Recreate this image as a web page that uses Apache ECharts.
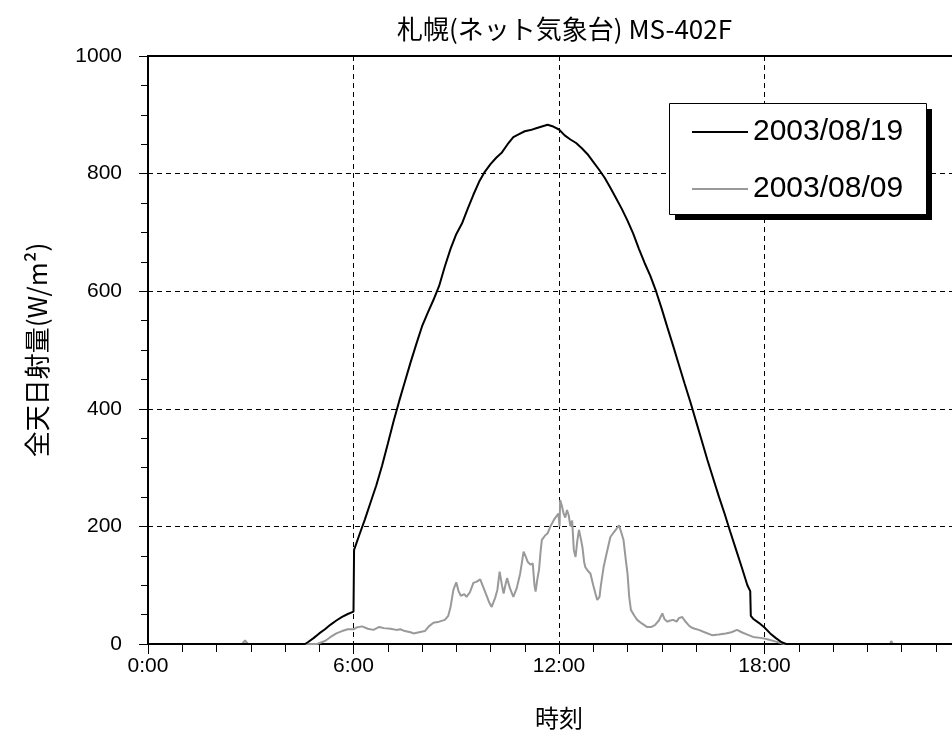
<!DOCTYPE html>
<html>
<head>
<meta charset="utf-8">
<script src="https://cdn.jsdelivr.net/npm/echarts@6/dist/echarts.min.js"></script>
<style>html,body{margin:0;padding:0;background:#fff;}#c{width:952px;height:743px;}</style>
</head>
<body>
<div id="c"></div>
<script>
// ---- data ----
const titleText = '札幌(ネット気象台) MS-402F';
const xName = '時刻';
const yName = '全天日射量(W/m²)';
const seriesNames = ['2003/08/19', '2003/08/09'];
const xTicks = [0, 6, 12, 18, 24];

const blackTimes = ['0:00','4:35','4:40','4:50','5:00','5:10','5:20','5:30','5:40','5:50','6:00','6:01','6:10','6:20','6:30','6:40','6:50',
  '7:00','7:10','7:20','7:30','7:40','7:50','8:00','8:10','8:20','8:30','8:40','8:50','9:00','9:10','9:20','9:30','9:40','9:50',
  '10:00','10:10','10:20','10:30','10:40','10:50','11:00','11:10','11:20','11:30','11:40','11:50','12:00','12:10','12:20','12:30','12:40','12:50',
  '13:00','13:10','13:20','13:30','13:40','13:50','14:00','14:10','14:20','14:30','14:40','14:50','15:00','15:10','15:20','15:30','15:40','15:50',
  '16:00','16:10','16:20','16:30','16:40','16:50','17:00','17:10','17:20','17:30','17:35','17:36','17:40','17:50','18:00','18:10','18:20','18:30','18:38','24:00'];
const blackValues = [0,0,3,10,18,25,33,40,46,51,55,160,185,212,241,270,303,
  340,378,413,446,479,510,540,563,585,609,642,672,697,715,740,764,786,803,
  816,827,836,850,862,867,872,874,877,880,883,880,875,865,858,852,843,833,
  820,807,793,776,758,740,720,698,672,648,626,600,570,538,507,475,443,412,
  379,346,313,282,251,222,191,161,131,100,90,48,43,36,28,18,10,3,0,0];

const grayTimes = ['0:00','2:45','2:50','2:55','4:56','5:10','5:20','5:30','5:40','5:50','6:00','6:05','6:15','6:25','6:35','6:45','6:53',
  '7:05','7:15','7:22','7:30','7:40','7:45','7:55','8:05','8:12','8:20','8:30','8:40','8:46','8:50','8:55','9:00','9:04','9:08','9:14','9:18',
  '9:24','9:30','9:36','9:42','9:48','9:54','9:58','10:02','10:08','10:12','10:16','10:20','10:23','10:26','10:29','10:34','10:40','10:46',
  '10:52','10:58','11:02','11:05','11:10','11:14','11:17','11:19','11:22','11:25','11:28','11:30','11:36','11:40','11:45','11:51','11:56',
  '11:59','12:01','12:02','12:05','12:08','12:11','12:14','12:17','12:20','12:23','12:26','12:29','12:32','12:35','12:38','12:41','12:44',
  '12:46','12:50','12:55','13:00','13:04','13:07','13:11','13:13','13:18','13:22','13:26','13:30','13:36','13:40','13:45','13:49','13:53',
  '13:57','14:00','14:03','14:06','14:12','14:17','14:25','14:34','14:42','14:48','14:55','15:01','15:05','15:10','15:15','15:20','15:26',
  '15:30','15:36','15:40','15:47','15:52','15:58','16:05','16:15','16:28','16:40','16:52','17:02','17:12','17:20','17:30','17:40','17:56',
  '18:05','18:20','18:34','21:40','21:42','21:45','24:00'];
const grayValues = [0,0,6,0,0,5,12,18,22,25,25,28,30,26,24,29,27,
  26,24,25,22,20,18,20,22,30,36,38,41,48,63,92,105,90,82,85,80,
  88,104,106,110,95,80,70,63,78,92,123,100,86,100,112,95,80,95,
  120,157,148,140,135,137,100,89,110,126,160,177,185,188,200,211,218,
  222,200,245,235,222,215,228,219,200,210,160,148,175,194,180,165,140,
  131,125,120,100,85,75,80,97,130,148,165,182,190,195,202,190,177,
  143,120,80,58,48,41,35,29,29,32,40,52,42,38,40,41,38,
  44,46,40,32,28,26,24,20,15,16,18,20,24,20,16,12,10,
  8,4,0,0,5,0,0];

const toH = s => { const p = s.split(':').map(Number); return p[0] + p[1] / 60; };
const blackData = blackTimes.map((t, i) => [toH(t), blackValues[i]]);
const grayData = grayTimes.map((t, i) => [toH(t), grayValues[i]]);

const chart = echarts.init(document.getElementById('c'), null, {renderer: 'canvas'});
const latin = 'Liberation Sans, Arial, sans-serif';
const cjk = 'Noto Sans CJK JP, sans-serif';

chart.setOption({
  animation: false,
  backgroundColor: '#fff',
  title: {
    text: titleText, left: 392, top: 11,
    textStyle: {fontFamily: cjk, fontSize: 26, fontWeight: 'normal', color: '#000'}
  },
  graphic: [
    {type: 'rect', z: 10, shape: {x: 675, y: 109, width: 257, height: 111}, style: {fill: '#000'}},
    {type: 'rect', z: 11, shape: {x: 669.5, y: 103.5, width: 257, height: 111}, style: {fill: '#fff', stroke: '#000', lineWidth: 1}}
  ],
  legend: {
    data: seriesNames.map(n => ({name: n, icon: 'rect'})),
    orient: 'vertical', left: 669, top: 103, z: 20,
    padding: [14, 20, 13, 23],
    itemWidth: 56, itemHeight: 2, itemGap: 27,
    textStyle: {fontFamily: latin, fontSize: 30, color: '#000'}
  },
  grid: {left: 148, top: 56, right: -18, bottom: 99, outerBoundsMode: 'none', containLabel: false,
    show: true, borderColor: '#000', borderWidth: 2, backgroundColor: 'transparent'},
  xAxis: {
    type: 'value', min: 0, max: 24, interval: 6,
    name: xName, nameLocation: 'middle', nameGap: 62,
    nameTextStyle: {fontFamily: cjk, fontSize: 24, color: '#000'},
    axisLine: {show: true, lineStyle: {color: '#000', width: 2}},
    axisTick: {show: true, length: 10, lineStyle: {color: '#000', width: 1}},
    minorTick: {show: true, splitNumber: 6, length: 8, lineStyle: {color: '#000', width: 1}},
    axisLabel: {margin: 12, fontFamily: latin, fontSize: 21, color: '#000',
      formatter: v => (xTicks.indexOf(v) >= 0 && v < 24) ? v + ':00' : ''},
    splitLine: {show: true, lineStyle: {color: '#000', width: 1, type: [5, 4]}}
  },
  yAxis: {
    type: 'value', min: 0, max: 1000, interval: 200,
    name: yName, nameLocation: 'middle', nameGap: 98,
    nameTextStyle: {fontFamily: cjk, fontSize: 26, color: '#000'},
    axisLine: {show: true, lineStyle: {color: '#000', width: 2}},
    axisTick: {show: true, length: 9, lineStyle: {color: '#000', width: 1}},
    minorTick: {show: true, splitNumber: 4, length: 7, lineStyle: {color: '#000', width: 1}},
    axisLabel: {margin: 26, fontFamily: latin, fontSize: 21, color: '#000', formatter: v => String(v)},
    splitLine: {show: true, lineStyle: {color: '#000', width: 1, type: [5, 4]}}
  },
  series: [
    {name: seriesNames[1], type: 'line', data: grayData, showSymbol: false, symbol: 'none',
      lineStyle: {color: '#999999', width: 2}, itemStyle: {color: '#999999'}},
    {name: seriesNames[0], type: 'line', data: blackData, showSymbol: false, symbol: 'none',
      lineStyle: {color: '#000000', width: 2}, itemStyle: {color: '#000000'}}
  ]
});
</script>
</body>
</html>
